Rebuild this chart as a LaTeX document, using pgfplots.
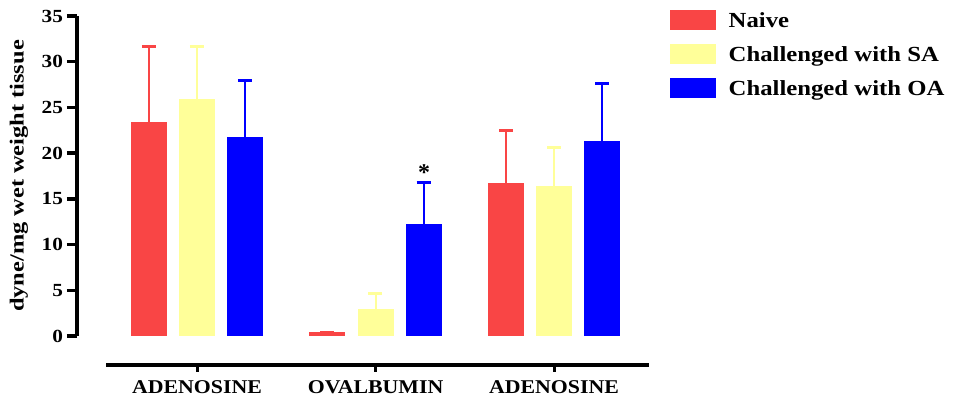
\documentclass[border=0pt]{standalone}
\usepackage{pgfplots}
\pgfplotsset{compat=1.18}
\usepackage{fontspec}
\setmainfont{Liberation Serif}
\definecolor{cred}{HTML}{F94545}
\definecolor{cyel}{HTML}{FFFF99}
\definecolor{cblu}{HTML}{0000FF}
\begin{document}
\begin{tikzpicture}[x=1pt,y=1pt]
\useasboundingbox (0,0) rectangle (953,398);
\begin{axis}[
  at={(77pt,62pt)}, anchor=south west,
  scale only axis, width=572pt, height=320pt,
  xmin=-0.672, xmax=2.532, ymin=0, ymax=35,
  axis x line=none, axis y line*=left,
  y axis line style={line width=4pt, -},
  ytick={0,5,...,35},
  tick align=outside, major tick length=10pt,
  every tick/.style={black, line width=3.5pt},
  yticklabel style={font=\fontsize{18.5}{18.5}\selectfont\bfseries, xscale=1.15},
  /pgf/number format/assume math mode=true,
  ylabel={dyne/mg wet weight tissue},
  ylabel style={font=\fontsize{20}{20}\selectfont\bfseries, at={(axis description cs:-0.1014,0.5)}, anchor=center, xscale=1.22},
  ybar=13pt, bar width=35pt,
  clip=false,
  error bars/y dir=plus, error bars/y explicit,
  error bars/error bar style={line width=2pt},
  legend style={at={(axis description cs:1.0367,1.01875)}, anchor=north west, draw=none, fill=none, inner sep=0pt, font=\fontsize{21.5}{21.5}\selectfont\bfseries, row sep=14pt, nodes={inner sep=0pt, text height=17pt, text depth=3pt}},
  legend cell align=left,
  legend image code/.code={\fill[#1, draw=none] (0pt,-10pt) rectangle (46pt,10pt); \path (58pt,0pt);},
  legend style={nodes={xscale=1.15}},
]
\addplot[fill=cred, draw=cred, line width=1pt, error bars/error mark options={rotate=90, cred, line width=3pt, mark size=7pt}] coordinates {(0,23.3) +- (0,8.4) (1,0.35) +- (0,0) (2,16.7) +- (0,5.8)};
\addplot[fill=cyel, draw=cyel, line width=1pt, error bars/error mark options={rotate=90, cyel, line width=3pt, mark size=7pt}] coordinates {(0,25.9) +- (0,5.8) (1,2.9) +- (0,1.8) (2,16.3) +- (0,4.3)};
\addplot[fill=cblu, draw=cblu, line width=1pt, error bars/error mark options={rotate=90, cblu, line width=3pt, mark size=7pt}] coordinates {(0,21.7) +- (0,6.2) (1,12.2) +- (0,4.6) (2,21.3) +- (0,6.3)};
\legend{Naive, Challenged with SA, Challenged with OA}
\node[font=\fontsize{24}{24}\selectfont\bfseries, anchor=center] at (axis cs:1.272,17.9) {*};
\end{axis}
\begin{axis}[
  at={(106pt,33pt)}, anchor=south west,
  scale only axis, width=543pt, height=10pt,
  xmin=-0.510, xmax=2.532, ymin=0, ymax=1,
  axis x line*=bottom, axis y line=none,
  x axis line style={line width=4pt, -},
  xtick={0,1,2}, xticklabels={ADENOSINE,OVALBUMIN,ADENOSINE},
  ytick=\empty,
  tick align=outside, major tick length=7pt,
  every tick/.style={black, line width=3pt},
  xticklabel style={font=\fontsize{19.5}{19.5}\selectfont\bfseries, xscale=1.12, yshift=-5pt},
]
\end{axis}
\end{tikzpicture}
\end{document}
